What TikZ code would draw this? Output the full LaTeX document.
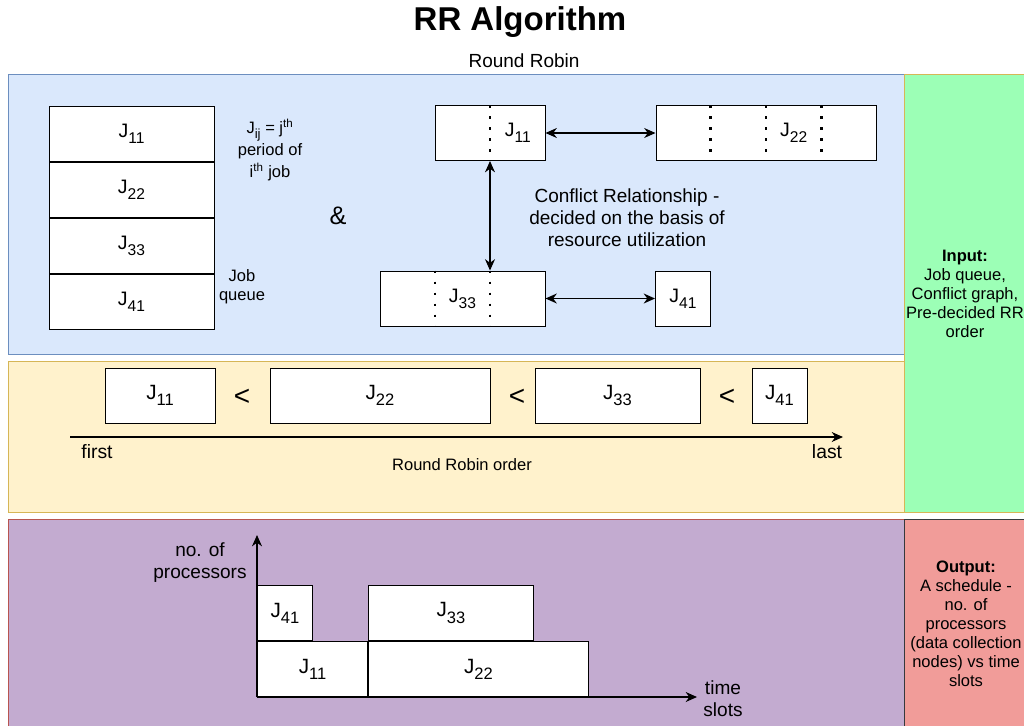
\documentclass[tikz,border=0pt]{standalone}
\usepackage{fontspec}
\setmainfont{Liberation Sans}
\usepackage{graphicx}
\usetikzlibrary{arrows.meta,calc}

\definecolor{bluefill}{HTML}{DAE8FC}
\definecolor{blueline}{HTML}{6C8EBF}
\definecolor{yelfill}{HTML}{FFF2CC}
\definecolor{yelline}{HTML}{D6B656}
\definecolor{purfill}{HTML}{C3ABD0}
\definecolor{purline}{HTML}{B85450}
\definecolor{grnfill}{HTML}{9CFFB6}
\definecolor{redfill}{HTML}{F19C99}
\definecolor{redline}{HTML}{36393D}

% job label with a lowered, reduced index
\newcommand\job[1]{J\raisebox{-0.3em}{\scalebox{0.8}{#1}}}
\newcommand\fs[2]{\fontsize{#1}{#2}\selectfont}

\begin{document}
\begin{tikzpicture}[x=0.75pt,y=-0.75pt,
  panel/.style={line width=0.75pt},
  jbox/.style={draw, fill=white, line width=0.75pt, inner sep=0pt, minimum height=41.25pt},
  w1/.style={minimum width=41.25pt},
  w2/.style={minimum width=82.5pt},
  w3/.style={minimum width=123.75pt},
  w4/.style={minimum width=165pt},
  topj/.style={font=\fs{14.6pt}{16pt}},
  lowj/.style={font=\fs{15.5pt}{18pt}},
  sep/.style={line width=1.9pt, dash pattern=on 1.9pt off 6.35pt},
  dbl/.style={{Stealth[length=8.5pt,width=7.5pt]}-{Stealth[length=8.5pt,width=7.5pt]}, line width=0.9pt},
  ax/.style={-{Stealth[length=8.5pt,width=7.5pt]}, line width=0.9pt},
  txt/.style={inner sep=0pt, align=center}]

\useasboundingbox (0,0) rectangle (1024,725);
\clip (0,0) rectangle (1024,725);

% background bands
\draw[panel, fill=bluefill, draw=blueline] (8,74) rectangle (904,354);
\draw[panel, fill=yelfill, draw=yelline] (8,361) rectangle (904,512);
\draw[panel, fill=purfill, draw=purline] (8,519) rectangle (904,740);
\draw[panel, fill=grnfill, draw=yelline] (904,74) rectangle (1030,512);
\draw[panel, fill=redfill, draw=redline] (904,519) rectangle (1030,740);

% headings
\node[txt, font=\fs{24.75pt}{28pt}\bfseries] (title) at (520,22) {RR Algorithm};
\node[txt, font=\fs{14.25pt}{16pt}] (subtitle) at (524,61) {Round Robin};

% job queue
\node[jbox, w3, topj] (q1) at (131.5,133.5) {\job{11}};
\node[jbox, w3, topj, anchor=north] (q2) at (q1.south) {\job{22}};
\node[jbox, w3, topj, anchor=north] (q3) at (q2.south) {\job{33}};
\node[jbox, w3, topj, anchor=north] (q4) at (q3.south) {\job{41}};
\node[txt, font=\fs{12.4pt}{16.5pt}] (legend) at (270,150)
  {\job{ij} = j\textsuperscript{th}\\period of\\i\textsuperscript{th} job};
\node[txt, font=\fs{12.4pt}{14.25pt}] (qname) at (242,286.5) {Job\\queue};
\node[txt, font=\fs{19pt}{22pt}] (amp) at (338,216) {\&};

% conflict graph
\node[jbox, w2] (c11) at (490,133) {};
\node[jbox, w4] (c22) at (766,133) {};
\node[jbox, w3] (c33) at (462.5,298.5) {};
\node[jbox, w1] (c41) at (683,298.5) {};
\draw[sep] (c11.north) -- (c11.south);
\foreach \f in {0.25,0.5,0.75}
  \draw[sep] ($(c22.north west)!\f!(c22.north east)$) -- ($(c22.south west)!\f!(c22.south east)$);
\foreach \f in {0.3333,0.6667}
  \draw[sep] ($(c33.north west)!\f!(c33.north east)$) -- ($(c33.south west)!\f!(c33.south east)$);
\node[txt, topj] (l11) at ($(c11.west)!0.75!(c11.east)$) {\job{11}};
\node[txt, topj] (l22) at ($(c22.west)!0.625!(c22.east)$) {\job{22}};
\node[txt, topj] (l33) at (c33.center) {\job{33}};
\node[txt, topj] (l41) at (c41.center) {\job{41}};
\draw[dbl] (c11.east) -- (c22.west);
\draw[dbl] (c11.south) -- (c11.south |- c33.north);
\draw[dbl] (c33.east) -- (c41.west);
\node[txt, font=\fs{14.25pt}{16.5pt}] (conflict) at (627,218)
  {Conflict Relationship -\\decided on the basis of\\resource utilization};

% round robin order
\node[jbox, w2, lowj] (o11) at (160,395.5) {\job{11}};
\node[jbox, w4, lowj] (o22) at (380,395.5) {\job{22}};
\node[jbox, w3, lowj] (o33) at (617.5,395.5) {\job{33}};
\node[jbox, w1, lowj] (o41) at (779.5,395.5) {\job{41}};
\node[txt, font=\fs{21pt}{24pt}] (lt1) at (242,397) {<};
\node[txt, font=\fs{21pt}{24pt}] (lt2) at (517,397) {<};
\node[txt, font=\fs{21pt}{24pt}] (lt3) at (727,397) {<};
\coordinate (ostart) at (70,437);
\coordinate (oend) at (843,437);
\draw[ax] (ostart) -- (oend);
\node[txt, font=\fs{14.5pt}{16pt}] (first) at (97,452) {first};
\node[txt, font=\fs{14.5pt}{16pt}] (last) at (827,452) {last};
\node[txt, font=\fs{12.4pt}{14pt}] (ordername) at (462,465) {Round Robin order};

% resulting schedule
\coordinate (org) at (257,697);
\coordinate (ytop) at (257,535);
\coordinate (xend) at (697,697);
\node[jbox, w2, lowj, anchor=south west] (b11) at (org) {\job{11}};
\node[jbox, w4, lowj, anchor=south west] (b22) at (b11.south east) {\job{22}};
\node[jbox, w1, lowj, anchor=south west] (b41) at (b11.north west) {\job{41}};
\node[jbox, w3, lowj, anchor=south west] (b33) at (b22.north west) {\job{33}};
\draw[ax] (org) -- (ytop);
\draw[ax] (org) -- (xend);
\node[txt, font=\fs{14.3pt}{16.5pt}] (ylab) at (200,563) {no. of\\processors};
\node[txt, font=\fs{14.3pt}{16.5pt}] (xlab) at (723,699) {time\\slots};

% side notes
\node[txt, font=\fs{12.4pt}{14.25pt}] (input) at (965,293.5)
  {\textbf{Input:}\\Job queue,\\Conflict graph,\\Pre-decided RR\\order};
\node[txt, font=\fs{12.4pt}{14.25pt}] (output) at (966,623.5)
  {\textbf{Output:}\\A schedule -\\no. of\\processors\\(data collection\\nodes) vs time\\slots};
\end{tikzpicture}
\end{document}
